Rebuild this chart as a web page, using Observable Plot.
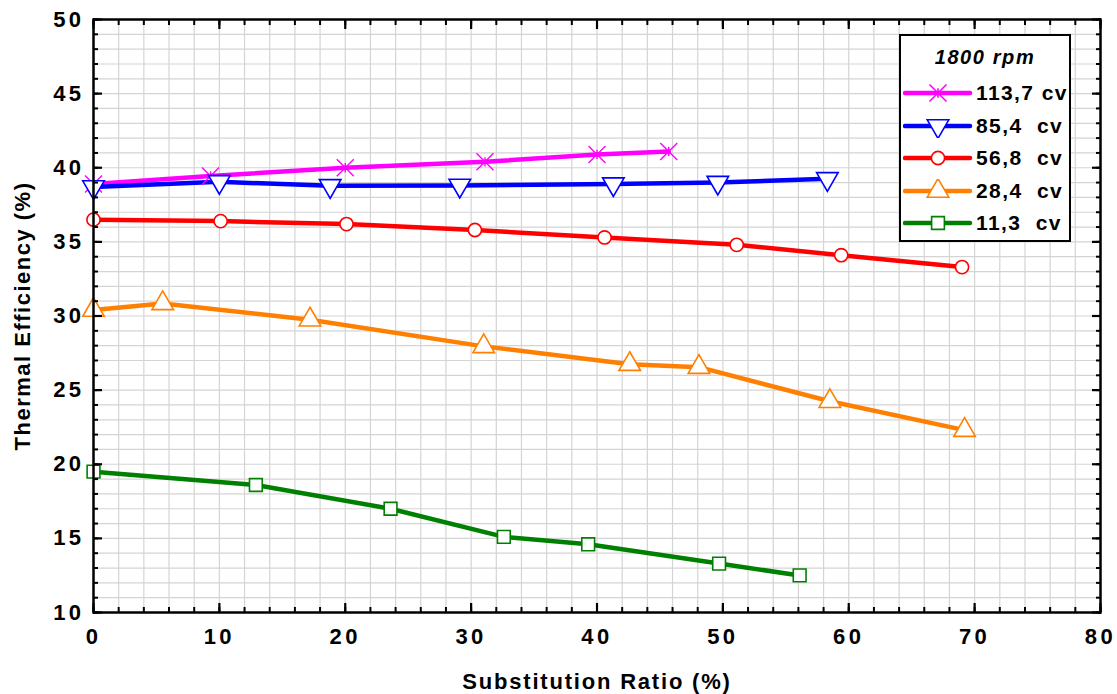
<!DOCTYPE html>
<html><head><meta charset="utf-8">
<script src="https://cdn.jsdelivr.net/npm/d3@7"></script>
<script src="https://cdn.jsdelivr.net/npm/@observablehq/plot@0.6"></script>
<style>
html,body{margin:0;padding:0;background:#fff;}
#wrap{position:relative;width:1117px;height:694px;font-family:"Liberation Sans",Arial,sans-serif;font-weight:bold;}
#chart svg text{font-size:21px;font-weight:bold;}
#chart svg g[aria-label="x-axis tick label"] text, #chart svg g[aria-label="y-axis tick label"] text{font-size:22px;letter-spacing:3.4px;}
#chart svg g[aria-label="x-axis label"] text{font-size:22px;letter-spacing:1.8px;}
#chart svg g[aria-label="y-axis label"] text{font-size:22px;letter-spacing:1.5px;}
#legend{position:absolute;left:899px;top:34px;width:172px;height:208px;border:2px solid #000;background:#fff;box-sizing:border-box;}
#legend .title{position:absolute;left:0;width:100%;top:10px;text-align:center;font-style:italic;font-size:20px;letter-spacing:1.6px;}
#legend .row{position:absolute;left:2px;height:24px;display:flex;align-items:center;font-size:21px;white-space:pre;letter-spacing:1.4px;}
#legend svg{display:block;}
</style></head>
<body><div id="wrap"><div id="chart"></div><div id="legend"></div></div>
<script>
const seriesNames = ["113,7 cv", "85,4  cv", "56,8  cv", "28,4  cv", "11,3  cv"];
const seriesColors = ["#ff00ff", "#0000ff", "#ff0000", "#ff8000", "#008000"];
const seriesSymbols = ["asterisk", "triangleDown", "circle", "triangle", "square"];

const x113 = [0, 9.3, 20.0, 31.1, 40.0, 45.7];
const y113 = [38.9, 39.45, 40.0, 40.4, 40.9, 41.1];
const x85 = [0, 10.0, 18.8, 29.1, 41.3, 49.6, 58.3];
const y85 = [38.7, 39.05, 38.78, 38.8, 38.9, 39.0, 39.25];
const x56 = [0, 10.1, 20.1, 30.3, 40.6, 51.1, 59.4, 69.0];
const y56 = [36.5, 36.4, 36.2, 35.8, 35.3, 34.8, 34.1, 33.3];
const x28 = [0, 5.5, 17.2, 31.0, 42.6, 48.1, 58.5, 69.2];
const y28 = [30.4, 30.85, 29.75, 27.95, 26.75, 26.55, 24.25, 22.3];
const x11 = [0, 12.9, 23.6, 32.6, 39.3, 49.7, 56.1];
const y11 = [19.5, 18.6, 17.0, 15.1, 14.6, 13.3, 12.5];

const xMajor = [0, 10, 20, 30, 40, 50, 60, 70, 80];
const xMinor = d3.range(0, 81, 2);
const yMajor = [10, 15, 20, 25, 30, 35, 40, 45, 50];
const yMinor = d3.range(10, 51, 1);

const xs = [x113, x85, x56, x28, x11];
const ys = [y113, y85, y56, y28, y11];
const rows = [];
xs.forEach((xa, i) => xa.forEach((x, j) => rows.push({series: seriesNames[i], x, y: ys[i][j], i})));

// X-shaped asterisk (diagonal cross plus vertical bar)
const starX = {
  draw(context, size) {
    const h = Math.sqrt(size / Math.PI);
    context.moveTo(-h, -h); context.lineTo(h, h);
    context.moveTo(h, -h); context.lineTo(-h, h);
    context.moveTo(0, -h * 0.55); context.lineTo(0, h * 0.55);
  }
};

const gridColor = "#d4d4d4";
const marks = [
  Plot.ruleX(xMinor, {stroke: gridColor, strokeWidth: 1.2}),
  Plot.ruleY(yMinor, {stroke: gridColor, strokeWidth: 1.2}),
];
seriesNames.forEach((name, i) => {
  const d = rows.filter(r => r.i === i);
  marks.push(Plot.line(d, {x: "x", y: "y", stroke: seriesColors[i], strokeWidth: 4.5}));
});
seriesNames.forEach((name, i) => {
  const d = rows.filter(r => r.i === i);
  const sym = seriesSymbols[i];
  const opts = {x: "x", y: "y", stroke: seriesColors[i], strokeWidth: 1.6, fill: "white"};
  if (sym === "asterisk") Object.assign(opts, {symbol: starX, r: 8.5, fill: "none", strokeWidth: 1.4});
  else if (sym === "triangleDown") Object.assign(opts, {symbol: "triangle", r: 8, rotate: 180});
  else if (sym === "triangle") Object.assign(opts, {symbol: "triangle", r: 8});
  else if (sym === "circle") Object.assign(opts, {symbol: "circle", r: 6.6});
  else Object.assign(opts, {symbol: "square", r: 7.2});
  marks.push(Plot.dot(d, opts));
});
marks.push(
  Plot.axisX({ticks: xMajor, anchor: "bottom", tickSize: 0, tickPadding: 16, label: "Substitution Ratio (%)", labelAnchor: "center", labelOffset: 76, labelArrow: "none"}),
  Plot.axisX({ticks: xMajor, anchor: "bottom", tickSize: -9, strokeWidth: 2.2, text: null, label: null}),
  Plot.axisX({ticks: xMinor, anchor: "bottom", tickSize: -5, strokeWidth: 2, text: null, label: null}),
  Plot.axisX({ticks: xMajor, anchor: "top", tickSize: -9, strokeWidth: 2.2, text: null, label: null}),
  Plot.axisX({ticks: xMinor, anchor: "top", tickSize: -5, strokeWidth: 2, text: null, label: null}),
  Plot.axisY({ticks: yMajor, anchor: "left", tickSize: 0, tickPadding: 9, label: "Thermal Efficiency (%)", labelAnchor: "center", labelOffset: 79, labelArrow: "none"}),
  Plot.axisY({ticks: yMajor, anchor: "left", tickSize: -9, strokeWidth: 2.2, text: null, label: null}),
  Plot.axisY({ticks: yMinor, anchor: "left", tickSize: -5, strokeWidth: 2, text: null, label: null}),
  Plot.axisY({ticks: yMajor, anchor: "right", tickSize: -9, strokeWidth: 2.2, text: null, label: null}),
  Plot.axisY({ticks: yMinor, anchor: "right", tickSize: -5, strokeWidth: 2, text: null, label: null}),
  Plot.frame({stroke: "black", strokeWidth: 2.5})
);

const chart = Plot.plot({
  width: 1117, height: 694,
  marginLeft: 93, marginRight: 17, marginTop: 19, marginBottom: 82,
  x: {domain: [0, 80]},
  y: {domain: [10, 50]},
  style: {fontFamily: '"Liberation Sans", Arial, sans-serif', fontWeight: "bold", fontSize: "21px", color: "black", background: "white", overflow: "visible"},
  marks
});
document.getElementById("chart").appendChild(chart);

// Legend
const leg = document.getElementById("legend");
const t = document.createElement("div");
t.className = "title"; t.textContent = "1800 rpm";
leg.appendChild(t);
const symMap = {asterisk: starX, circle: d3.symbolCircle, triangle: d3.symbolTriangle, triangleDown: d3.symbolTriangle, square: d3.symbolSquare};
const symSize = {asterisk: Math.PI*8.5*8.5, circle: Math.PI*6.6*6.6, triangle: Math.PI*64, triangleDown: Math.PI*64, square: Math.PI*7.2*7.2};
seriesNames.forEach((name, i) => {
  const row = document.createElement("div");
  row.className = "row";
  row.style.top = (45 + i * 32.5) + "px";
  const s = d3.create("svg").attr("width", 70).attr("height", 24);
  s.append("line").attr("x1", 2).attr("x2", 67).attr("y1", 12).attr("y2", 12).attr("stroke", seriesColors[i]).attr("stroke-width", 4.5).attr("stroke-linecap", "round");
  const sym = seriesSymbols[i];
  s.append("path").attr("d", d3.symbol(symMap[sym], symSize[sym])())
    .attr("transform", `translate(35,12)${sym === "triangleDown" ? " rotate(180)" : ""}`)
    .attr("fill", sym === "asterisk" ? "none" : "white").attr("stroke", seriesColors[i]).attr("stroke-width", 1.6);
  row.appendChild(s.node());
  const tx = document.createElement("span");
  tx.textContent = name; tx.style.marginLeft = "3px";
  row.appendChild(tx);
  leg.appendChild(row);
});
</script></body></html>
